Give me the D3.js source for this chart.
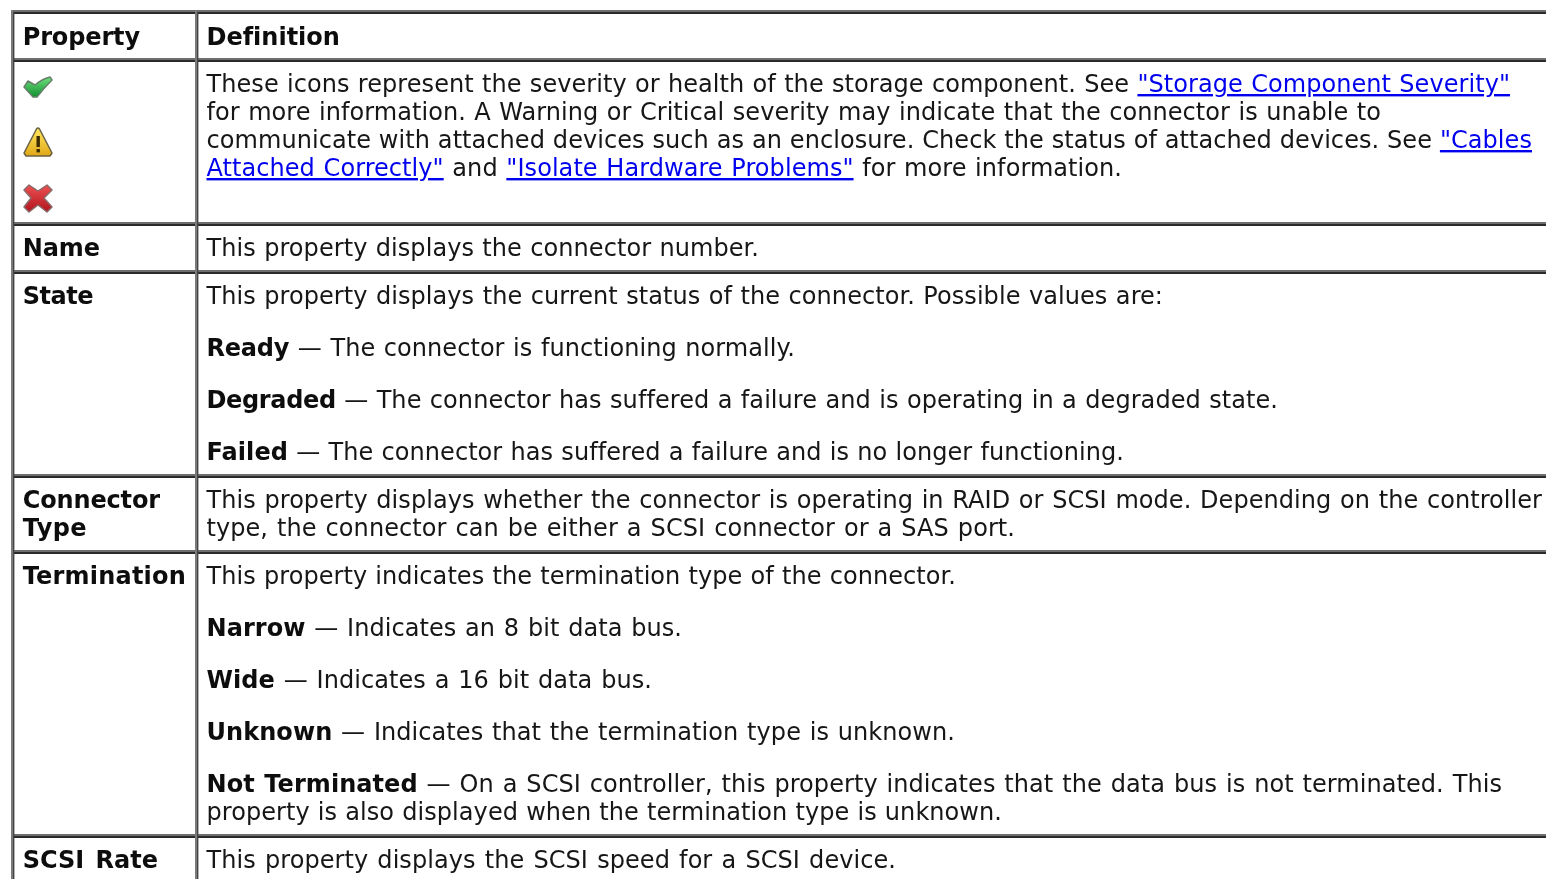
<!DOCTYPE html>
<html><head><meta charset="utf-8">
<script src="https://cdnjs.cloudflare.com/ajax/libs/d3/7.8.5/d3.min.js"></script>
<style>html,body{margin:0;padding:0;background:#fff;overflow:hidden}svg{display:block}text{font-family:"DejaVu Sans",Verdana,sans-serif;font-size:24px;fill:#111;white-space:pre}</style>
</head><body><svg id="c" width="1546" height="879"></svg>
<script>
// [text, style] segments: n normal, b bold, a link
const headers = ["Property", "Definition"];
const headerEnds = [140, 339];
const properties = [["@icons"], ["Name"], ["State"], ["Connector", "Type"], ["Termination"], ["SCSI Rate"]];
const propertyEnds = [[], [100], [93], [160, 87], [186], [158]];
const iconNames = ["ok", "warn", "crit"];
const iconRowBody = 144;
const boldTracking = {Degraded: -0.35, Ready: -0.2};
const definitions = [
  [[[["These icons represent the severity or health of the storage component. See ","n"],["\"Storage Component Severity\"","a"]],
    [["for more information. A Warning or Critical severity may indicate that the connector is unable to","n"]],
    [["communicate with attached devices such as an enclosure. Check the status of attached devices. See ","n"],["\"Cables","a"]],
    [["Attached Correctly\"","a"],[" and ","n"],["\"Isolate Hardware Problems\"","a"],[" for more information.","n"]]]],
  [[[["This property displays the connector number.","n"]]]],
  [[[["This property displays the current status of the connector. Possible values are:","n"]]],
   [[["Ready","b"],[" — The connector is functioning normally.","n"]]],
   [[["Degraded","b"],[" — The connector has suffered a failure and is operating in a degraded state.","n"]]],
   [[["Failed","b"],[" — The connector has suffered a failure and is no longer functioning.","n"]]]],
  [[[["This property displays whether the connector is operating in RAID or SCSI mode. Depending on the controller","n"]],
    [["type, the connector can be either a SCSI connector or a SAS port.","n"]]]],
  [[[["This property indicates the termination type of the connector.","n"]]],
   [[["Narrow","b"],[" — Indicates an 8 bit data bus.","n"]]],
   [[["Wide","b"],[" — Indicates a 16 bit data bus.","n"]]],
   [[["Unknown","b"],[" — Indicates that the termination type is unknown.","n"]]],
   [[["Not Terminated","b"],[" — On a SCSI controller, this property indicates that the data bus is not terminated. This","n"]],
    [["property is also displayed when the termination type is unknown.","n"]]]],
  [[[["This property displays the SCSI speed for a SCSI device.","n"]]]]
];
const definitionEnds = [1510,1381,1532,1122, 759, 1163,795,1278,1124, 1542,1015, 956,682,652,955,1502,1002, 896];
const LH = 28, GAP = 24, PAD = 20, TOP = 12, XT = 206.5, XP = 22.7, BASE = 33;
const svg = d3.select("#c");
const defs = svg.append("defs");
defs.append("filter").attr("id","soft").attr("x","-5%").attr("y","-20%").attr("width","110%").attr("height","140%")
  .append("feGaussianBlur").attr("stdDeviation",0.35);
const rowH = definitions.map((d, i) => i === 0 ? iconRowBody + PAD :
  d3.sum(d, p => p.length) * LH + (d.length - 1) * GAP + PAD);
const tops = [TOP, TOP + LH + PAD];
rowH.forEach(h => tops.push(tops[tops.length - 1] + h));
const borders = svg.append("g");
function hline(y){
  borders.append("rect").attr("x",11).attr("y",y-2).attr("width",1535).attr("height",2).attr("fill","#6e6e6e");
  borders.append("rect").attr("x",11).attr("y",y).attr("width",1535).attr("height",2).attr("fill","#2a2a2a");
}
tops.forEach(y => { if (y < 879) hline(y); });
function vline(x){
  borders.append("rect").attr("x",x).attr("y",10).attr("width",2).attr("height",869).attr("fill","#7a7a7a");
  borders.append("rect").attr("x",x+2).attr("y",12).attr("width",1.4).attr("height",867).attr("fill","#444");
}
vline(11); vline(195);
const textG = svg.append("g").attr("filter","url(#soft)");
const style = s => s === "b" ? {w:"bold",f:"#111",u:null} : s === "a" ? {w:"normal",f:"#0000ee",u:"underline"} : {w:"normal",f:"#151515",u:null};
function line(x, y, segs, end){
  const t = textG.append("text").attr("x",x).attr("y",y);
  t.selectAll("tspan").data(segs).join("tspan").text(d=>d[0])
    .attr("font-weight",d=>style(d[1]).w).style("fill",d=>style(d[1]).f).attr("text-decoration",d=>style(d[1]).u);
  const str = segs.map(s=>s[0]).join("");
  const spaces = (str.match(/ /g)||[]).length;
  const delta = end - x - t.node().getComputedTextLength();
  if (spaces >= 3) {
    t.style("letter-spacing","0.06px");
    t.selectAll("tspan").filter(d=>boldTracking[d[0]]!==undefined).style("letter-spacing",d=>boldTracking[d[0]]+"px");
    const d2 = end - x - t.node().getComputedTextLength();
    t.style("word-spacing",(d2/spaces)+"px");
  }
  else if (spaces > 0) t.style("word-spacing",(delta/spaces)+"px");
  else t.style("letter-spacing",(delta/str.length)+"px");
}
line(XP, TOP + BASE, [[headers[0],"b"]], headerEnds[0]);
line(XT, TOP + BASE, [[headers[1],"b"]], headerEnds[1]);
let li = 0;
definitions.forEach((paras, r) => {
  const top = tops[r+1];
  properties[r].forEach((l, i) => { if (l !== "@icons") line(XP, top + BASE - 1 + i*LH, [[l,"b"]], propertyEnds[r][i]); });
  let y = top + BASE - 1;
  paras.forEach(p => { p.forEach(l => { line(XT, y, l, definitionEnds[li++]); y += LH; }); y += GAP; });
});
// icons
[["gOk","#6fe07f","#12902e"],["gWarn","#ffe860","#e0a818"],["gCrit","#ee5050","#b0141e"]].forEach(c=>{
  const g = defs.append("linearGradient").attr("id",c[0]).attr("x1",0).attr("x2",0).attr("y1",0).attr("y2",1);
  g.append("stop").attr("offset",0).attr("stop-color",c[1]); g.append("stop").attr("offset",1).attr("stop-color",c[2]);
});
const iconPaths = {
  ok:{y:76,d:"M1 11 L5 5 L12 9 Q19 3 27 1 L29 4 Q21 12 14 21 L10 21 Z",f:"url(#gOk)",s:"#66806a"},
  warn:{y:127,d:"M13.5 2 Q15 0 16.5 2 L29 26 L27 29 L3 29 L1 26 Z",f:"url(#gWarn)",s:"#6a6244"},
  crit:{y:184,d:"M6 1 L15 7 L24 1 L29 6 L21 14 L29 23 L24 28 L15 21 L6 28 L1 23 L8 14 L1 6 Z",f:"url(#gCrit)",s:"#8a6a6a"}
};
const iconG = svg.append("g").attr("filter","url(#soft)");
iconNames.forEach(n=>{
  const g = iconG.append("g").attr("transform",`translate(23,${iconPaths[n].y})`);
  g.append("path").attr("d",iconPaths[n].d).attr("fill",iconPaths[n].f).attr("stroke",iconPaths[n].s).attr("stroke-width",1.5).attr("stroke-linejoin","round");
  if(n==="warn"){
    g.append("rect").attr("x",13.5).attr("y",9).attr("width",3.4).attr("height",11).attr("fill","#3a2a00");
    g.append("rect").attr("x",13.5).attr("y",22).attr("width",3.4).attr("height",3.4).attr("fill","#3a2a00");
  }
});
</script></body></html>
